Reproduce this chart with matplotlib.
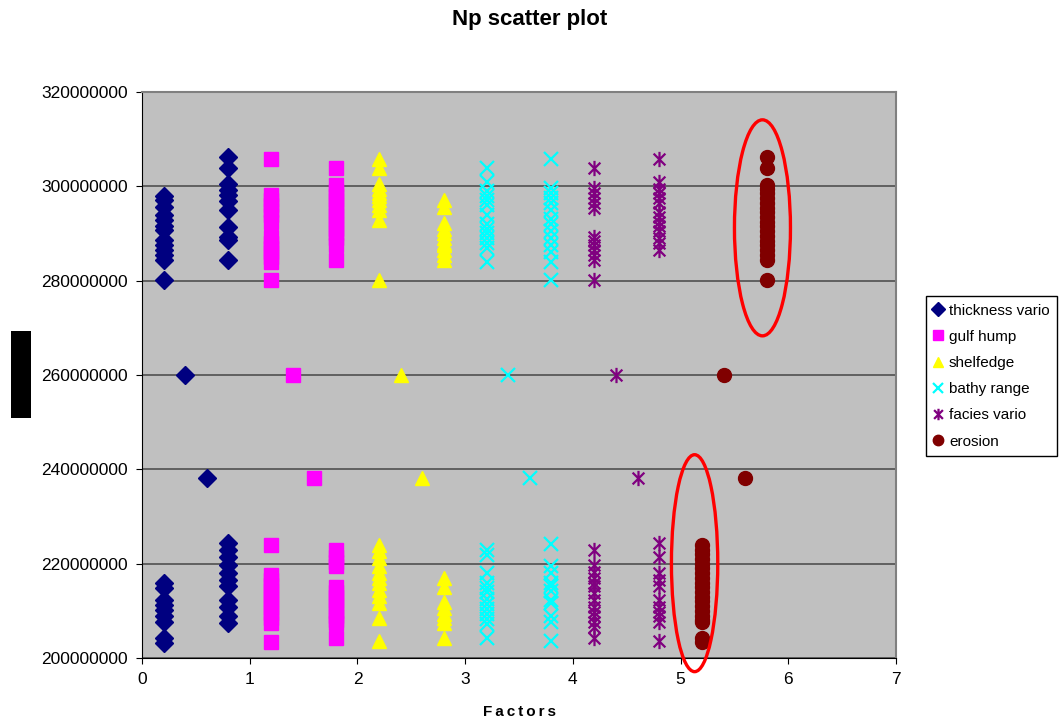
import numpy as np
import matplotlib
matplotlib.use('Agg')
import matplotlib.pyplot as plt
from matplotlib.patches import Ellipse, Rectangle
from matplotlib.path import Path
from matplotlib.ticker import FuncFormatter

plt.rcParams['font.family'] = ['Liberation Sans', 'DejaVu Sans']

# values in millions, keyed by factor position
thickness_vario = {
    0.2: [297.9, 297.1, 295.7, 293.9, 292.9, 291.6, 290.7, 288.6, 287.5, 286.5, 285.4, 284.4, 280.1,
          215.8, 214.8, 212.3, 211.2, 210.2, 208.8, 207.7, 204.2, 203.1],
    0.8: [306.3, 303.8, 300.6, 299.2, 298.2, 296.8, 295.0, 291.4, 289.3, 288.6, 284.4,
          224.3, 222.9, 221.5, 219.7, 218.0, 216.6, 215.2, 212.3, 210.9, 208.8, 207.4],
    0.4: [260.0],
    0.6: [238.2],
}
gulf_hump = {
    1.2: [305.8, 298.2, 297.0, 296.0, 295.0, 294.0, 292.5, 289.3, 288.0, 287.0, 286.0, 285.0, 284.0, 280.1,
          224.0, 217.6, 216.5, 215.5, 214.5, 213.5, 212.5, 211.5, 210.5, 209.5, 208.5, 207.4, 203.3],
    1.8: [303.8, 300.3, 299.0, 298.0, 297.0, 296.0, 295.0, 294.0, 293.0, 292.0, 291.0, 290.0, 289.0, 287.6, 284.4,
          222.8, 221.5, 220.3, 219.4, 215.1, 214.0, 213.0, 212.0, 211.0, 210.0, 209.0, 208.0, 207.4, 204.2],
    1.4: [260.0],
    1.6: [238.2],
}
shelfedge = {
    2.2: [305.9, 303.8, 300.6, 299.5, 298.5, 298.0, 297.0, 296.0, 295.0, 292.9, 280.1,
          224.0, 222.6, 221.2, 219.4, 218.0, 217.0, 215.9, 214.5, 213.1, 211.7, 208.4, 203.5],
    2.8: [297.0, 295.7, 292.2, 291.0, 290.0, 289.0, 288.0, 287.5, 286.5, 285.5, 284.4,
          216.9, 215.1, 211.9, 210.5, 209.4, 208.4, 207.4, 204.2],
    2.4: [260.0],
    2.6: [238.2],
}
bathy_range = {
    3.2: [303.8, 301.0, 299.0, 298.0, 297.0, 296.0, 294.0, 292.0, 291.0, 290.0, 289.0, 288.0, 287.0, 284.0,
          222.9, 221.9, 218.0, 216.0, 214.9, 213.9, 212.5, 211.5, 210.4, 209.3, 208.3, 207.3, 204.2],
    3.8: [305.9, 299.6, 298.5, 297.5, 296.5, 295.0, 293.0, 292.0, 290.5, 289.0, 287.5, 286.0, 284.0, 280.1,
          224.2, 219.4, 218.0, 215.9, 215.2, 214.1, 212.3, 211.6, 208.8, 207.7, 203.5],
    3.4: [260.0],
    3.6: [238.2],
}
facies_vario = {
    4.2: [303.8, 299.6, 298.5, 297.5, 296.5, 295.3, 289.3, 288.5, 287.5, 286.5, 285.5, 284.4, 280.1,
          222.9, 219.7, 218.3, 216.9, 215.9, 215.2, 213.8, 212.3, 210.9, 209.8, 208.8, 207.7, 206.6, 204.2],
    4.8: [305.9, 301.0, 299.5, 298.5, 297.5, 296.5, 294.5, 293.5, 292.5, 291.5, 290.5, 289.0, 288.0, 286.5,
          224.3, 221.5, 218.0, 216.6, 215.2, 212.3, 210.9, 209.8, 208.8, 207.7, 203.5],
    4.4: [260.0],
    4.6: [238.2],
}
erosion = {
    5.8: [306.3, 303.8, 300.3, 299.5, 298.5, 297.5, 296.5, 295.5, 294.5, 293.5, 292.5, 291.5, 290.5,
          289.5, 288.5, 287.5, 286.5, 285.5, 284.4, 280.1],
    5.2: [224.0, 223.0, 222.0, 221.0, 220.0, 219.0, 218.0, 217.0, 216.0, 215.0, 214.0, 213.0, 212.0,
          211.0, 210.0, 209.0, 208.0, 207.7, 204.2, 203.3],
    5.4: [260.0],
    5.6: [238.2],
}

series_names = ['thickness vario', 'gulf hump', 'shelfedge', 'bathy range', 'facies vario', 'erosion']
series_data = [thickness_vario, gulf_hump, shelfedge, bathy_range, facies_vario, erosion]

# Excel style asterisk: an x with a vertical bar through it
star = Path([(-1, -1), (1, 1), (-1, 1), (1, -1), (0, -1.3), (0, 1.3)],
            [Path.MOVETO, Path.LINETO, Path.MOVETO, Path.LINETO, Path.MOVETO, Path.LINETO])

styles = [
    dict(marker='D', color='#000080', markersize=9),
    dict(marker='s', color='#FF00FF', markersize=9.5),
    dict(marker='^', color='#FFFF00', markersize=10.5),
    dict(marker='x', color='#00FFFF', markersize=9.5, markeredgewidth=1.6),
    dict(marker=star, color='#800080', markersize=11, markeredgewidth=1.6, fillstyle='none'),
    dict(marker='o', color='#800000', markersize=10),
]

fig = plt.figure(figsize=(10.6, 7.21), dpi=100)
ax = fig.add_axes([0.134, 0.0874, 0.7113, 0.785])
ax.set_facecolor('#C0C0C0')

for name, data, st in zip(series_names, series_data, styles):
    xs, ys = [], []
    for xpos, vals in data.items():
        xs += [xpos] * len(vals)
        ys += [v * 1e6 for v in vals]
    ax.plot(xs, ys, linestyle='none', label=name, zorder=3, **st)

ax.set_xlim(0, 7)
ax.set_ylim(200e6, 320e6)
ax.set_xticks(range(0, 8))
ax.set_yticks(np.arange(200e6, 320e6 + 1, 20e6))
ax.yaxis.set_major_formatter(FuncFormatter(lambda v, p: f'{v:.0f}'))
ax.tick_params(direction='out', length=4, labelsize=12.5, pad=6)
ax.grid(axis='y', color='#505050', linewidth=1.2, zorder=1)
ax.set_axisbelow(True)
for side in ['top', 'right']:
    ax.spines[side].set_color('#808080')
    ax.spines[side].set_linewidth(1.5)
for side in ['left', 'bottom']:
    ax.spines[side].set_color('black')

# red rings around the erosion clusters
ax.add_patch(Ellipse((5.76, 291.2e6), 0.52, 45.8e6, fill=False, edgecolor='#FF0000',
                     linewidth=2.4, zorder=5, clip_on=False))
ax.add_patch(Ellipse((5.13, 220.1e6), 0.43, 46e6, fill=False, edgecolor='#FF0000',
                     linewidth=2.4, zorder=5, clip_on=False))

ax.set_xlabel('F\u2009a\u2009c\u2009t\u2009o\u2009r\u2009s', fontsize=11, fontweight='bold',
              labelpad=13)
fig.suptitle('Np scatter plot', fontsize=16, fontweight='bold', y=0.988)

leg = ax.legend(loc='upper left', bbox_to_anchor=(0.8736, 0.5895), bbox_transform=fig.transFigure,
                fontsize=11, frameon=True, fancybox=False, edgecolor='black', framealpha=1,
                handlelength=0.6, handletextpad=0.4, labelspacing=0.8, borderpad=0.5,
                borderaxespad=0, markerscale=0.75)
leg.get_frame().set_linewidth(1.0)

# label box on the left
fig.add_artist(Rectangle((0.0104, 0.4202), 0.0189, 0.1207, transform=fig.transFigure,
                         facecolor='black', edgecolor='none'))

fig.savefig('out.png', dpi=100)
